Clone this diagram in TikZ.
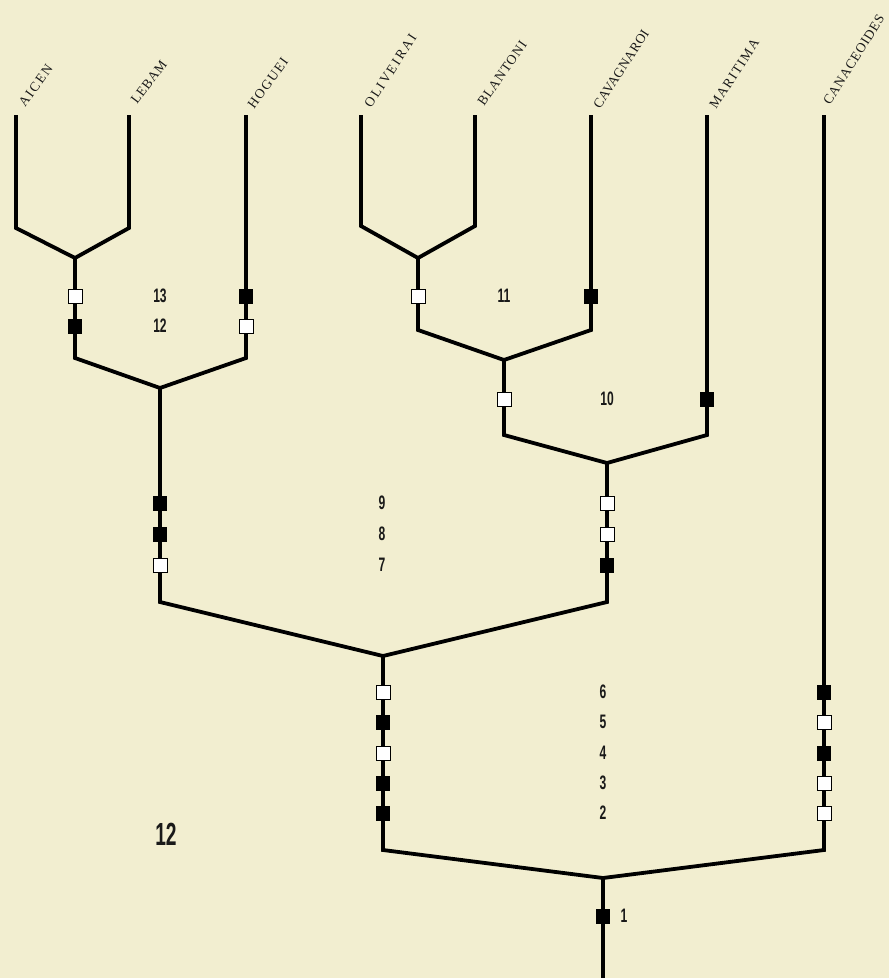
\documentclass[tikz,border=0pt]{standalone}
\usepackage{fontspec}
\setmainfont{Liberation Serif}
\newfontfamily\tipfont{Liberation Serif}
\newfontfamily\numfontfam{Liberation Sans}
\definecolor{bgcream}{RGB}{242,238,208}
\begin{document}
\begin{tikzpicture}[x=1pt,y=-1pt,
  branch/.style={line width=3.8pt, line join=miter, line cap=butt},
  filledmark/.style={draw=black, fill=black, line width=0.8pt, minimum width=13pt, minimum height=14pt, inner sep=0pt, rectangle},
  openmark/.style={draw=black, fill=white, line width=0.9pt, minimum width=14pt, minimum height=14pt, inner sep=0pt, rectangle},
  tiplabel/.style={font=\tipfont\fontsize{13.5}{13.5}\selectfont\addfontfeature{LetterSpace=#1}, rotate=57, anchor=base west, inner sep=0pt, text=black!90},
  steplabel/.style={font=\numfontfam\bfseries\fontsize{19.5}{19.5}\selectfont, xscale=0.62, transform shape, inner sep=0pt, text=black!90},
  biglabel/.style={font=\numfontfam\bfseries\fontsize{32}{32}\selectfont, xscale=0.6, transform shape, inner sep=0pt, text=black!90}
]
\fill[bgcream] (0,0) rectangle (889,978);
\useasboundingbox (0,0) rectangle (889,978);

% tips
\coordinate (tA) at (16,115);
\coordinate (tL) at (129,115);
\coordinate (tH) at (246,115);
\coordinate (tO) at (361,115);
\coordinate (tB) at (475,115);
\coordinate (tC) at (591,115);
\coordinate (tM) at (707,115);
\coordinate (tK) at (824,115);

% elbows and junctions
\coordinate (eA) at (16,228);
\coordinate (eL) at (129,228);
\coordinate (j1) at (75,258);
\coordinate (e1) at (75,358);
\coordinate (eH) at (246,358);
\coordinate (j2) at (160,388);
\coordinate (eO) at (361,226);
\coordinate (eB) at (475,226);
\coordinate (j3) at (418,258);
\coordinate (e3) at (418,330);
\coordinate (eC) at (591,330);
\coordinate (j4) at (504,360);
\coordinate (e4) at (504,435);
\coordinate (eM) at (707,435);
\coordinate (j5) at (607,463);
\coordinate (e2) at (160,602);
\coordinate (e5) at (607,602);
\coordinate (j6) at (383,656);
\coordinate (e6) at (383,850);
\coordinate (eK) at (824,850);
\coordinate (j7) at (603,878);
\coordinate (root) at (603,978);

% branches
\draw[branch] (tA) -- (eA) -- (j1);
\draw[branch] (tL) -- (eL) -- (j1);
\draw[branch] (j1) -- (e1) -- (j2);
\draw[branch] (tH) -- (eH) -- (j2);
\draw[branch] (tO) -- (eO) -- (j3);
\draw[branch] (tB) -- (eB) -- (j3);
\draw[branch] (j3) -- (e3) -- (j4);
\draw[branch] (tC) -- (eC) -- (j4);
\draw[branch] (j4) -- (e4) -- (j5);
\draw[branch] (tM) -- (eM) -- (j5);
\draw[branch] (j2) -- (e2) -- (j6);
\draw[branch] (j5) -- (e5) -- (j6);
\draw[branch] (j6) -- (e6) -- (j7);
\draw[branch] (tK) -- (eK) -- (j7);
\draw[branch] (j7) -- (root);

% tip labels
\node[tiplabel=13, rotate=-3] (lA) at (25,108) {AICEN};
\node[tiplabel=6, rotate=-4] (lL) at (137,105) {LEBAM};
\node[tiplabel=11, rotate=-3] (lH) at (254,110) {HOGUEI};
\node[tiplabel=15] (lO) at (371,109) {OLIVEIRAI};
\node[tiplabel=7, rotate=-2] (lB) at (484,107) {BLANTONI};
\node[tiplabel=3] (lC) at (600,110) {CAVAGNAROI};
\node[tiplabel=11] (lM) at (716,110) {MARITIMA};
\node[tiplabel=6, rotate=1] (lK) at (830,106) {CANACEOIDES};

% markers
\node[openmark] (m13a) at (75,296) {};
\node[filledmark] (m12a) at (75,326) {};
\node[filledmark] (m13b) at (246,296) {};
\node[openmark] (m12b) at (246,326) {};
\node[openmark] (m11a) at (418,296) {};
\node[filledmark] (m11b) at (591,296) {};
\node[openmark] (m10a) at (504,399) {};
\node[filledmark] (m10b) at (707,399) {};
\node[filledmark] (m9a) at (160,503) {};
\node[filledmark] (m8a) at (160,534) {};
\node[openmark] (m7a) at (160,565) {};
\node[openmark] (m9b) at (607,503) {};
\node[openmark] (m8b) at (607,534) {};
\node[filledmark] (m7b) at (607,565) {};
\node[openmark] (m6a) at (383,692) {};
\node[filledmark] (m5a) at (383,722) {};
\node[openmark] (m4a) at (383,753) {};
\node[filledmark] (m3a) at (383,783) {};
\node[filledmark] (m2a) at (383,813) {};
\node[filledmark] (m6b) at (824,692) {};
\node[openmark] (m5b) at (824,722) {};
\node[filledmark] (m4b) at (824,753) {};
\node[openmark] (m3b) at (824,783) {};
\node[openmark] (m2b) at (824,813) {};
\node[filledmark] (m1) at (603,916) {};

% step numbers
\node[steplabel] (n13) at (160,296) {13};
\node[steplabel] (n12) at (160,326) {12};
\node[steplabel] (n11) at (504,296) {11};
\node[steplabel] (n10) at (607,399) {10};
\node[steplabel] (n9) at (382,503) {9};
\node[steplabel] (n8) at (382,534) {8};
\node[steplabel] (n7) at (382,565) {7};
\node[steplabel] (n6) at (603,692) {6};
\node[steplabel] (n5) at (603,722) {5};
\node[steplabel] (n4) at (603,753) {4};
\node[steplabel] (n3) at (603,783) {3};
\node[steplabel] (n2) at (603,813) {2};
\node[steplabel] (n1) at (624,916) {1};
\node[biglabel] (fig) at (166,834) {12};
\end{tikzpicture}
\end{document}
